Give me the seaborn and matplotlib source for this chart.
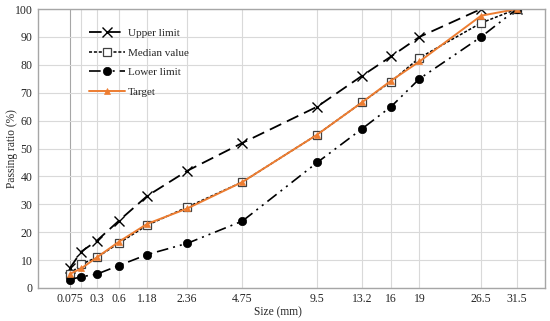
import numpy as np
import pandas as pd
import matplotlib
matplotlib.use("Agg")
import matplotlib.pyplot as plt
import seaborn as sns

# ---- data ----
sizes = [0.075, 0.15, 0.3, 0.6, 1.18, 2.36, 4.75, 9.5, 13.2, 16, 19, 26.5, 31.5]
tick_labels = ["0.075", "", "0.3", "0.6", "1.18", "2.36", "4.75", "9.5", "13.2", "16", "19", "26.5", "31.5"]
upper_limit = [7, 13, 17, 24, 33, 42, 52, 65, 76, 83, 90, 100, 100]
median_value = [5, 8.5, 11, 16, 22.5, 29, 38, 55, 66.5, 74, 82.5, 95, 100]
lower_limit = [3, 4, 5, 8, 12, 16, 24, 45, 57, 65, 75, 90, 100]
target = [5, 7, 11, 16.5, 23, 28.5, 38, 55, 66.5, 74.3, 81.2, 97.6, 100]
y_ticks = list(range(0, 101, 10))

sns.set_theme(style="white")
plt.rcParams['font.family'] = ['Liberation Serif', 'DejaVu Serif']

fig = plt.figure(figsize=(5.5, 3.21), dpi=100)
ax = fig.add_axes([38/550, 33/321, 507/550, 279/321])

p = 0.45
ax.set_xscale('function', functions=(lambda x: np.power(np.clip(x, 0, None), p),
                                     lambda u: np.power(np.clip(u, 0, None), 1/p)))

series = [
    ("Upper limit", upper_limit, dict(color="black", marker="x", markersize=6.5, markeredgewidth=1.0,
                                      markeredgecolor="black",
                                      linestyle=(0, (7, 3.5)), linewidth=1.3)),
    ("Median value", median_value, dict(color="black", marker="s", markersize=6, markerfacecolor="white",
                                        markeredgecolor="#404040", markeredgewidth=0.9,
                                        linestyle=(0, (2, 1.2)), linewidth=1.1)),
    ("Lower limit", lower_limit, dict(color="black", marker="o", markersize=6, markeredgecolor="black",
                                      markeredgewidth=0.5,
                                      linestyle=(0, (7, 3, 1.2, 3, 1.2, 3)), linewidth=1.2)),
    ("Target", target, dict(color="#ED7D31", marker="^", markersize=4.5, markeredgewidth=0.5,
                            markeredgecolor="#ED7D31", linestyle="-", linewidth=1.4)),
]

for name, vals, kw in series:
    sns.lineplot(x=sizes, y=vals, ax=ax, label=name, **kw)

ax.set_xlim(0, 5 ** (1 / p))
ax.set_ylim(0, 100)
ax.set_xticks(sizes)
ax.set_xticklabels(tick_labels, fontsize=8.5)
ax.set_yticks(y_ticks)
ax.set_yticklabels([str(v) for v in y_ticks], fontsize=8.5)
ax.tick_params(axis='x', length=0, pad=3.5)
ax.tick_params(axis='y', length=0, pad=4)

ax.grid(True, color="#d9d9d9", linewidth=0.8)
ax.set_axisbelow(True)
xgrid = ax.get_xgridlines()
if xgrid:
    xgrid[0].set_color("#a6a6a6")

for s in ax.spines.values():
    s.set_color("#a6a6a6")
    s.set_linewidth(1.0)

ax.set_xlabel("Size (mm)", fontsize=8.3)
ax.xaxis.set_label_coords(0.473, -0.064)
ax.set_ylabel("Passing ratio (%)", fontsize=8.3)
ax.yaxis.set_label_coords(-0.04, 0.5)

leg = ax.legend(loc="upper left", bbox_to_anchor=(0.091, 0.948), frameon=False, fontsize=8,
                handlelength=3.3, labelspacing=0.9, handletextpad=0.27, borderaxespad=0)

fig.savefig("out.png", dpi=100)
